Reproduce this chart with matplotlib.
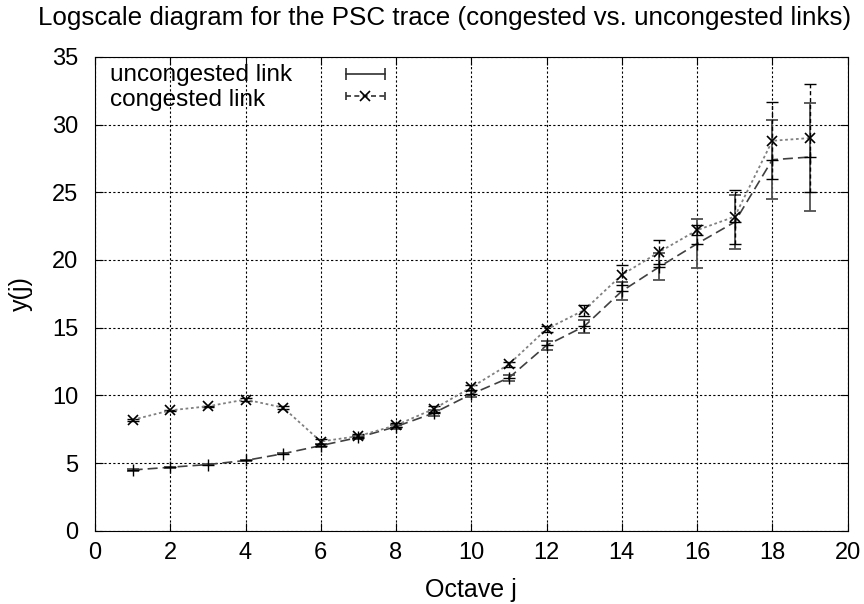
import matplotlib
matplotlib.use("Agg")
import matplotlib.pyplot as plt
from matplotlib.lines import Line2D
from matplotlib.legend_handler import HandlerLine2D, HandlerTuple

plt.rcParams["font.family"] = ["Liberation Sans", "DejaVu Sans"]

octaves = list(range(1, 20))
uncongested = [4.5, 4.7, 4.9, 5.2, 5.7, 6.3, 6.9, 7.7, 8.7, 10.1,
               11.3, 13.7, 15.1, 17.7, 19.5, 21.2, 22.8, 27.4, 27.6]
uncongested_err = [0.05, 0.05, 0.05, 0.05, 0.05, 0.1, 0.1, 0.15, 0.2, 0.25,
                   0.2, 0.35, 0.5, 0.65, 1.0, 1.8, 2.0, 2.9, 4.0]
congested = [8.2, 8.9, 9.2, 9.7, 9.1, 6.6, 7.0, 7.8, 9.0, 10.6,
             12.3, 14.9, 16.3, 18.9, 20.6, 22.2, 23.2, 28.8, 29.0]
congested_err = [0.05, 0.05, 0.05, 0.1, 0.1, 0.15, 0.15, 0.15, 0.2, 0.2,
                 0.2, 0.25, 0.4, 0.75, 0.9, 0.35, 2.0, 2.85, 4.0]
labels = ["uncongested link", "congested link"]

fig = plt.figure(figsize=(8.64, 6.04), dpi=100)
ax = fig.add_axes([0.110, 0.121, 0.871, 0.785])

# uncongested: dashed line, solid error bars
ax.errorbar(octaves, uncongested, yerr=uncongested_err, fmt="none",
            ecolor="#505050", elinewidth=1.3, capsize=4, capthick=1.3,
            zorder=3)
ax.plot(octaves, uncongested, ls=(0, (6, 3)), color="#404040", lw=1.2,
        marker="+", ms=9, mec="black", mew=1.0, zorder=4)

# congested: dotted line, dashed error bars
e2 = ax.errorbar(octaves, congested, yerr=congested_err, fmt="none",
                 ecolor="black", elinewidth=1.0, capsize=4, capthick=1.0,
                 zorder=3)
e2[2][0].set_linestyle((0, (3, 2)))
ax.plot(octaves, congested, ls=(0, (1.5, 1.5)), color="#808080", lw=1.3,
        marker="x", ms=7, mec="black", mew=1.2, zorder=4)

ax.set_xlim(0, 20)
ax.set_ylim(0, 35)
ax.set_xticks(range(0, 21, 2))
ax.set_yticks(range(0, 36, 5))
ax.tick_params(direction="in", top=True, right=True, length=6, labelsize=17)
ax.tick_params(axis="x", pad=8)
ax.tick_params(axis="y", pad=12)
ax.grid(True, ls=(0, (2, 2)), color="black", lw=0.8)

ax.set_xlabel("Octave j", fontsize=18, labelpad=10)
ax.set_ylabel("y(j)", fontsize=18, labelpad=14)
fig.text(0.514, 0.97, "Logscale diagram for the PSC trace (congested vs. uncongested links)",
         fontsize=18.7, ha="center", va="center")

# gnuplot-style key: labels flush left, samples to the right
h_unc = Line2D([], [], ls="-", color="#303030", lw=1.2, marker="|", ms=8, mew=1.2)
h_con = Line2D([], [], ls=(0, (3, 2)), color="#303030", lw=1.2, marker="|",
               ms=6, mew=1.2)
h_x = Line2D([], [], ls="none", marker="x", ms=7, mec="black", mew=1.2)
ax.legend([h_unc, (h_con, h_x)], ["", ""],
          loc="center", bbox_to_anchor=(0.359, 0.935), frameon=False,
          numpoints=2, handlelength=2.2, fontsize=17.5,
          handletextpad=0, labelspacing=0.0, borderpad=0,
          handler_map={h_x: HandlerLine2D(numpoints=1),
                       tuple: HandlerTuple(ndivide=1)})
for lab, yy in zip(labels, [0.962, 0.909]):
    ax.text(0.02, yy, lab, transform=ax.transAxes, fontsize=17.5,
            ha="left", va="center")

fig.savefig("out.png", dpi=100)
